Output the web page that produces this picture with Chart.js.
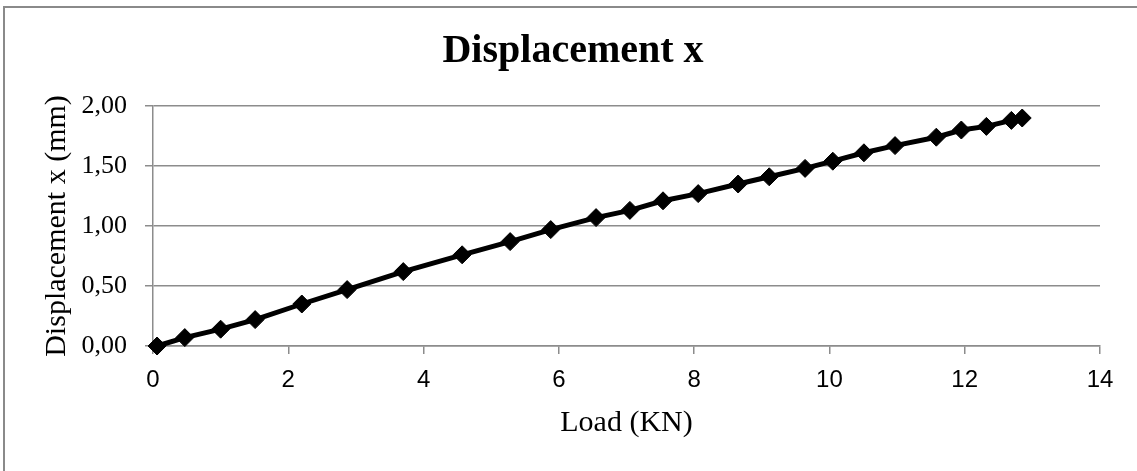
<!DOCTYPE html>
<html>
<head>
<meta charset="utf-8">
<script src="https://cdn.jsdelivr.net/npm/chart.js@4/dist/chart.umd.min.js"></script>
<style>
  html, body { margin: 0; padding: 0; background: #fff; overflow: hidden; }
  #wrap { position: relative; width: 1137px; height: 471px; }
  #frame { position: absolute; left: 3px; top: 6px; width: 1300px; height: 700px; border: 2px solid #8a8a8a; box-sizing: border-box; }
  canvas { position: absolute; left: 0; top: 0; }
</style>
</head>
<body>
<div id="wrap">
  <div id="frame"></div>
  <canvas id="c" width="1137" height="471"></canvas>
</div>
<script>
const chartTitle = 'Displacement x';
const xTitle = 'Load (KN)';
const yTitle = 'Displacement x (mm)';
const loadKN = [0.06, 0.47, 1.00, 1.51, 2.20, 2.87, 3.70, 4.57, 5.28, 5.88, 6.55, 7.05, 7.54, 8.06, 8.65, 9.11, 9.64, 10.05, 10.51, 10.97, 11.58, 11.95, 12.32, 12.69, 12.85];
const dispMM = [0.00, 0.07, 0.14, 0.22, 0.35, 0.47, 0.62, 0.76, 0.87, 0.97, 1.07, 1.13, 1.21, 1.27, 1.35, 1.41, 1.48, 1.54, 1.61, 1.67, 1.74, 1.80, 1.83, 1.88, 1.90];

const points = loadKN.map((x, i) => ({ x: x, y: dispMM[i] }));
const gridGray = '#8c8c8c';
const serif = "'Liberation Serif', 'DejaVu Serif', serif";
const sans = "'Liberation Sans', Arial, sans-serif";

new Chart(document.getElementById('c'), {
  type: 'scatter',
  data: {
    datasets: [{
      data: points,
      showLine: true,
      borderColor: '#000',
      backgroundColor: '#000',
      borderWidth: 5,
      pointStyle: 'rectRot',
      pointRadius: 9,
      pointBorderWidth: 1,
      pointBackgroundColor: '#000',
      pointBorderColor: '#000',
      clip: false
    }]
  },
  options: {
    responsive: false,
    animation: false,
    devicePixelRatio: 1,
    layout: { padding: { left: 9, right: 0, top: 0, bottom: 0 } },
    plugins: {
      legend: { display: false },
      tooltip: { enabled: false },
      title: {
        display: true,
        text: chartTitle,
        color: '#000',
        font: { family: serif, size: 40, weight: 'bold', lineHeight: 1.2 },
        padding: { top: 28, bottom: 30 }
      }
    },
    scales: {
      x: {
        type: 'linear',
        min: 0, max: 14,
        ticks: { stepSize: 2, color: '#000', font: { family: sans, size: 24 }, padding: 12, maxRotation: 0 },
        grid: { drawOnChartArea: false, drawTicks: true, tickLength: 8, color: gridGray, lineWidth: 1.5 },
        border: { color: gridGray, width: 1.5 },
        title: { display: true, text: xTitle, color: '#000', font: { family: serif, size: 30, lineHeight: 1.2 }, padding: { top: 10, bottom: 30 } },
        afterFit: (s) => { s.height = 125; }
      },
      y: {
        type: 'linear',
        min: 0, max: 2,
        ticks: {
          stepSize: 0.5, color: '#000', font: { family: serif, size: 26 }, padding: 18,
          callback: (v) => Number(v).toFixed(2).replace('.', ',')
        },
        grid: { drawOnChartArea: true, drawTicks: true, tickLength: 8, color: gridGray, lineWidth: 1.5 },
        border: { color: gridGray, width: 1.5 },
        title: { display: true, text: yTitle, color: '#000', font: { family: serif, size: 30, lineHeight: 1.2 }, padding: { top: 30, bottom: 0 } },
        afterFit: (s) => { s.width = 144; }
      },
      yRightSpace: {
        type: 'linear',
        position: 'right',
        display: true,
        min: 0, max: 2,
        ticks: { display: false },
        grid: { display: false, drawOnChartArea: false, drawTicks: false },
        border: { display: false },
        afterFit: (s) => { s.width = 37; }
      }
    }
  }
});
</script>
</body>
</html>
